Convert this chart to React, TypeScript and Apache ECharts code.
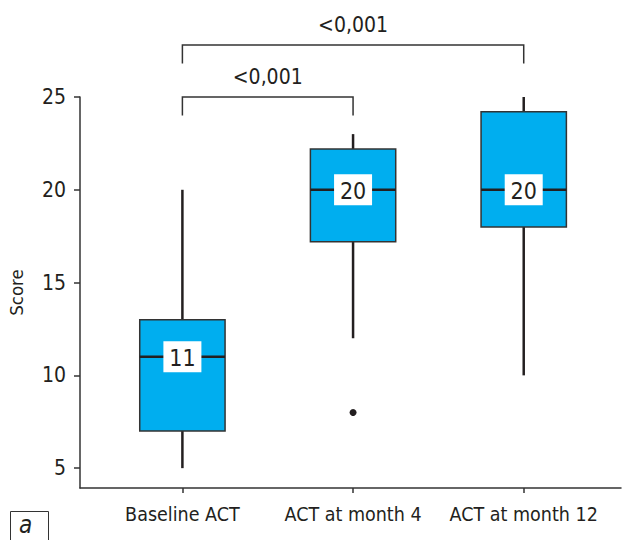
import React, { useEffect, useRef } from "react";
import * as echarts from "echarts";

const categories = ["Baseline ACT", "ACT at month 4", "ACT at month 12"];
// [min, Q1, median, Q3, max]
const boxStats = [
  [5, 7, 11, 13, 20],
  [12, 17.2, 20, 22.2, 23],
  [10, 18, 20, 24.2, 25],
];
const outliers = [[2, 8]];
const yTicks = [5, 10, 15, 20, 25];
// [from category index (1-based), to category index, bracket level]
const brackets = [
  [1, 2, 25],
  [1, 3, 27.8],
];
const bracketLabels = ["<0,001", "<0,001"];

const FONT = "'Liberation Sans Narrow', 'DejaVu Sans Condensed', 'Roboto', sans-serif";
const DARK = "#231f20";

export default function App() {
  const ref = useRef<HTMLDivElement>(null);
  useEffect(() => {
    if (!ref.current) return;
    const chart = echarts.init(ref.current, null, { renderer: "svg" });
    const boxData = boxStats.map((s, i) => [i + 1, ...s]);
    chart.setOption({
      animation: false,
      textStyle: { fontFamily: FONT },
      grid: { left: 80, right: 1, top: 97, bottom: 52, outerBoundsMode: "none", containLabel: false },
      xAxis: {
        type: "value",
        min: 0.4,
        max: 3.57,
        splitLine: { show: false },
        axisLine: { show: true, lineStyle: { color: "#333", width: 1.5 } },
        axisTick: { show: true, customValues: [1, 2, 3], length: 5, lineStyle: { color: "#333", width: 1.5 } },
        axisLabel: {
          customValues: [1, 2, 3],
          formatter: (v: number) => categories[Math.round(v) - 1] ?? "",
          color: DARK,
          fontSize: 19.5,
          fontFamily: FONT,
          margin: 16,
        },
      },
      yAxis: {
        type: "value",
        min: 3.93,
        max: 25,
        name: "Score",
        nameLocation: "middle",
        nameRotate: 90,
        nameGap: 54,
        nameTextStyle: { color: DARK, fontSize: 18.5, fontFamily: FONT },
        splitLine: { show: false },
        axisLine: { show: true, lineStyle: { color: "#333", width: 1.5 } },
        axisTick: { show: true, customValues: yTicks, length: 6, lineStyle: { color: "#333", width: 1.5 } },
        axisLabel: {
          customValues: yTicks,
          color: DARK,
          fontSize: 21,
          fontFamily: FONT,
          margin: 14,
        },
      },
      series: [
        {
          type: "custom",
          data: boxData,
          clip: false,
          renderItem: (params: any, api: any) => {
            const x = api.value(0);
            const mn = api.value(1), q1 = api.value(2), md = api.value(3), q3 = api.value(4), mx = api.value(5);
            const half = api.size([0.25, 0])[0];
            const pMin = api.coord([x, mn]);
            const pQ1 = api.coord([x, q1]);
            const pMd = api.coord([x, md]);
            const pQ3 = api.coord([x, q3]);
            const pMx = api.coord([x, mx]);
            const cx = pMd[0];
            return {
              type: "group",
              children: [
                { type: "line", shape: { x1: cx, y1: pMin[1], x2: cx, y2: pQ1[1] }, style: { stroke: DARK, lineWidth: 2.5 } },
                { type: "line", shape: { x1: cx, y1: pQ3[1], x2: cx, y2: pMx[1] }, style: { stroke: DARK, lineWidth: 2.5 } },
                {
                  type: "rect",
                  shape: { x: cx - half, y: pQ3[1], width: half * 2, height: pQ1[1] - pQ3[1] },
                  style: { fill: "#00aeef", stroke: "#333", lineWidth: 1.5 },
                },
                { type: "line", shape: { x1: cx - half, y1: pMd[1], x2: cx + half, y2: pMd[1] }, style: { stroke: DARK, lineWidth: 2.5 } },
                { type: "rect", shape: { x: cx - 19, y: pMd[1] - 15.5, width: 38, height: 31 }, style: { fill: "#fff" } },
                {
                  type: "text",
                  x: cx,
                  y: pMd[1] + 1,
                  style: { text: String(md), fill: DARK, fontSize: 23, fontFamily: FONT, align: "center", verticalAlign: "middle" },
                },
              ],
            };
          },
        },
        {
          type: "scatter",
          data: outliers,
          symbol: "circle",
          symbolSize: 7,
          itemStyle: { color: DARK, opacity: 1 },
        },
        {
          type: "custom",
          data: brackets.map((b, i) => [...b, i]),
          clip: false,
          renderItem: (params: any, api: any) => {
            const a = api.value(0), b = api.value(1), lvl = api.value(2), idx = api.value(3);
            const p1 = api.coord([a, lvl]);
            const p2 = api.coord([b, lvl]);
            const d1 = api.coord([a, lvl - 1]);
            return {
              type: "group",
              children: [
                {
                  type: "polyline",
                  shape: { points: [[p1[0], d1[1]], [p1[0], p1[1]], [p2[0], p2[1]], [p2[0], d1[1]]] },
                  style: { stroke: "#333", lineWidth: 1.5, fill: null },
                },
                {
                  type: "text",
                  x: (p1[0] + p2[0]) / 2,
                  y: p1[1] - 20,
                  style: { text: bracketLabels[idx], fill: DARK, fontSize: 21, fontFamily: FONT, align: "center", verticalAlign: "middle" },
                },
              ],
            };
          },
        },
      ],
      graphic: [
        { type: "rect", left: 8, top: 509, shape: { width: 38, height: 40 }, style: { fill: "none", stroke: "#333", lineWidth: 1 } },
        {
          type: "text",
          left: 19,
          top: 513,
          style: { text: "a", fill: DARK, fontSize: 24, fontStyle: "italic", fontFamily: FONT },
        },
      ],
    });
    return () => chart.dispose();
  }, []);
  return <div ref={ref} style={{ position: "absolute", left: 0, top: 0, width: 622, height: 540 }} />;
}
